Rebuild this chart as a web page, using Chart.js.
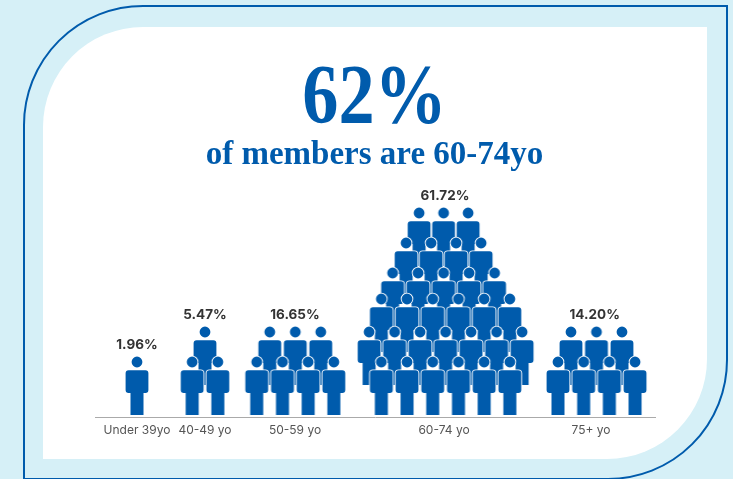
<!DOCTYPE html>
<html><head><meta charset="utf-8">
<style>
html,body{margin:0;padding:0;width:733px;height:479px;overflow:hidden;background:#d6f0f7}
#frame,#panel{position:absolute;box-sizing:border-box}
#frame{left:22.5px;top:4.5px;width:705.5px;height:475px;border:2.5px solid #005bac;border-radius:120px 0 120px 0}
#panel{left:43px;top:27px;width:664px;height:432px;background:#fff;border-radius:100px 0 100px 0}
canvas{position:absolute;left:0;top:0}
</style></head><body>
<div id="frame"></div><div id="panel"></div>
<canvas id="c" width="733" height="479"></canvas>
<script src="https://cdn.jsdelivr.net/npm/chart.js@4/dist/chart.umd.min.js"></script>
<script>
const headline = "62%";
const subhead = "of members are 60-74yo";
const categories = ["Under 39yo","40-49 yo","50-59 yo","60-74 yo","75+ yo"];
const shares = ["1.96%","5.47%","16.65%","61.72%","14.20%"];
// people per row, front row first
const peoplePerRow = [[1],[2,1],[4,3],[6,7,6,5,4,3],[4,3]];

const BLUE = "#005bac";
// layout (x axis runs in pixels of the plot area, y axis in pixels above the front row)
const groupCentre = [42,110,200.3,350.6,501.5];
const tickCentre = [42,110,200,349,496];
const labelCentre = [42,110,200,350,499.7];
const rowRise = [0,30,63,89,119,149];
const rowPitch = [25.7,25.5,25.7,25.5,25,24.5];
const rowShift = [0,0,0,-2,-2,-2];

function personIcon(){
  const c=document.createElement("canvas");c.width=30;c.height=66;
  const g=c.getContext("2d");g.translate(15,8);
  const w=11.4,t=8.3,b=31,l=6.5,f=53,q=3;
  const shape=()=>{g.beginPath();g.arc(0,0,5.4,0,7);g.closePath();
    g.moveTo(-w+q,t);g.lineTo(w-q,t);g.quadraticCurveTo(w,t,w,t+q);g.lineTo(w,b-q);g.quadraticCurveTo(w,b,w-q,b);
    g.lineTo(l,b);g.lineTo(l,f);g.lineTo(-l,f);g.lineTo(-l,b);g.lineTo(-w+q,b);g.quadraticCurveTo(-w,b,-w,b-q);g.lineTo(-w,t+q);g.quadraticCurveTo(-w,t,-w+q,t);g.closePath();};
  shape();g.strokeStyle="#fff";g.lineWidth=1.8;g.stroke();
  g.fillStyle=BLUE;shape();g.fill();
  return c;
}
const icon=personIcon();

const datasets=categories.map((name,i)=>{
  const pts=[];
  peoplePerRow[i].forEach((n,r)=>{
    for(let k=0;k<n;k++) pts.push({x:groupCentre[i]+rowShift[r]+(k-(n-1)/2)*rowPitch[r],y:rowRise[r],r});
  });
  pts.sort((a,b)=>b.r-a.r);
  return {label:name,data:pts,pointStyle:icon,pointRadius:15,pointHoverRadius:15,showLine:false,backgroundColor:BLUE,borderColor:BLUE};
});

const texts={id:"texts",afterDraw(ch){
  const g=ch.ctx,xs=ch.scales.x,ys=ch.scales.y;
  g.save();g.textAlign="center";g.textBaseline="alphabetic";g.fillStyle=BLUE;
  g.save();g.translate(374.5,123);g.scale(0.86,1);g.font="bold 84px 'Liberation Serif'";g.fillText(headline,0,0);g.restore();
  g.font="bold 33px 'Liberation Serif'";g.fillText(subhead,374.5,164);
  g.fillStyle="#333";g.font="bold 13.5px Inter";
  shares.forEach((s,i)=>{
    const top=rowRise[peoplePerRow[i].length-1];
    g.fillText(s,xs.getPixelForValue(labelCentre[i]),ys.getPixelForValue(top)-25-13);
  });
  g.restore();
}};

new Chart(document.getElementById("c"),{
  type:"scatter",
  data:{datasets},
  plugins:[texts],
  options:{
    responsive:false,animation:false,devicePixelRatio:1,
    layout:{padding:{left:95,right:78,top:190,bottom:38}},
    plugins:{legend:{display:false},tooltip:{enabled:false},title:{display:false}},
    scales:{
      x:{type:"linear",min:0,max:560,
        afterBuildTicks(a){a.ticks=tickCentre.map(v=>({value:v}));},
        afterFit(a){a.height=24;},
        grid:{display:false,drawTicks:false},border:{display:true,color:"#aaaaaa",width:1},
        ticks:{autoSkip:false,maxRotation:0,padding:6,color:"#555",font:{family:"Inter",size:12},
          callback(v,i){return categories[i];}}},
      y:{type:"linear",min:-30,max:197,display:false}
    }
  }
});
</script>
</body></html>
